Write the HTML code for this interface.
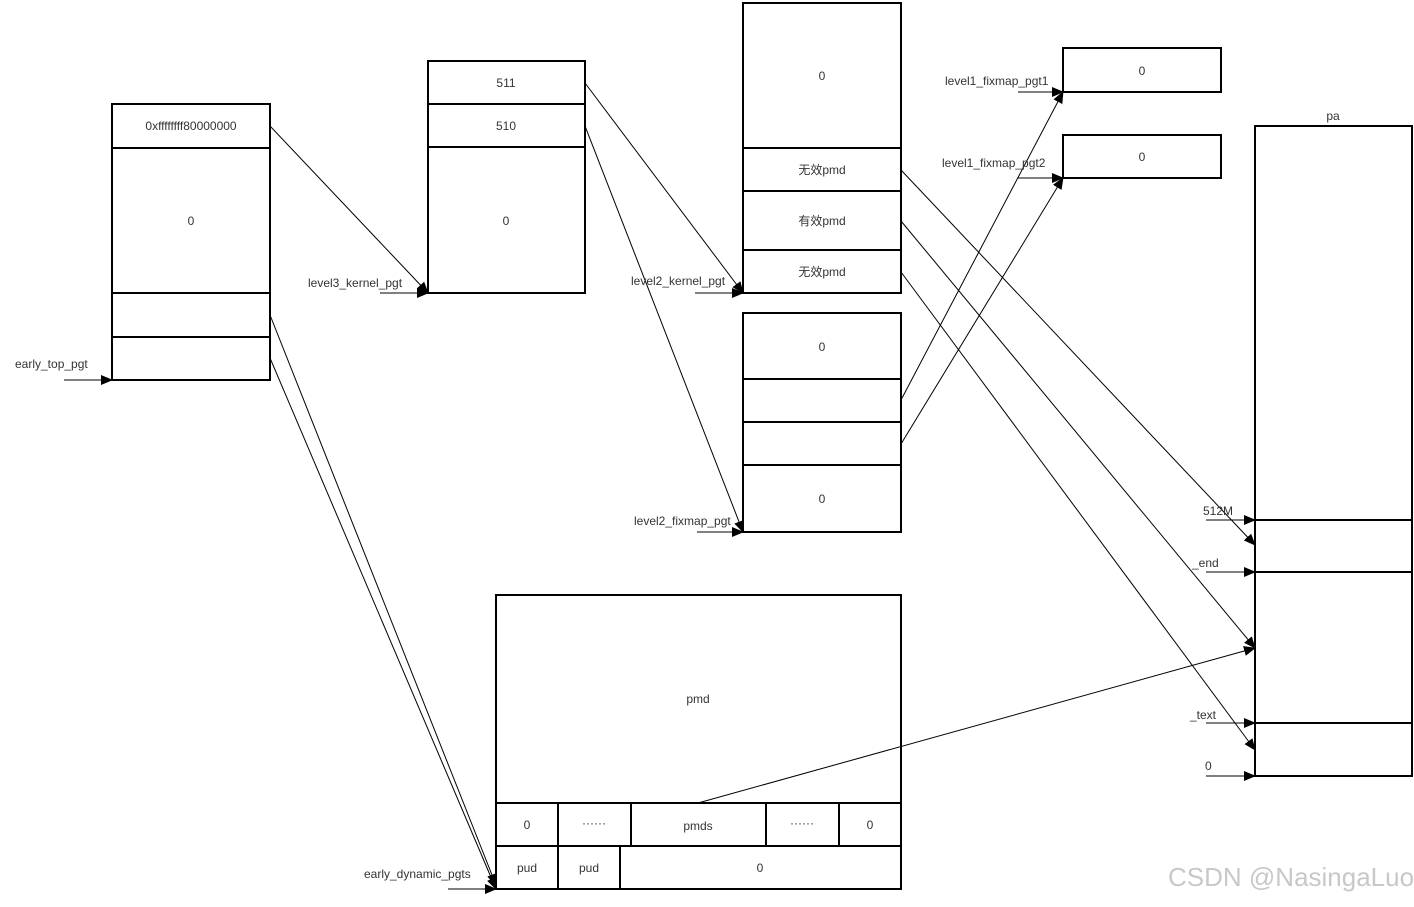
<!DOCTYPE html>
<html><head><meta charset="utf-8"><style>
html,body{margin:0;padding:0;background:#fff;}
svg text{font-family:"Liberation Sans","Noto Sans CJK SC",sans-serif;font-size:12px;fill:#333;}
</style></head><body>
<svg width="1414" height="902" xmlns="http://www.w3.org/2000/svg">
<defs><marker id="a" markerWidth="12" markerHeight="10" refX="11" refY="5" orient="auto" markerUnits="userSpaceOnUse"><path d="M0,0 L12,5 L0,10 Z" fill="#000"/></marker></defs>
<g fill="none" stroke="#000" stroke-width="2">
<rect x="112" y="104" width="158" height="276"/>
<line x1="112" y1="148" x2="270" y2="148"/><line x1="112" y1="293" x2="270" y2="293"/><line x1="112" y1="337" x2="270" y2="337"/>
<rect x="428" y="61" width="157" height="232"/>
<line x1="428" y1="104" x2="585" y2="104"/><line x1="428" y1="147" x2="585" y2="147"/>
<rect x="743" y="3" width="158" height="290"/>
<line x1="743" y1="148" x2="901" y2="148"/><line x1="743" y1="191" x2="901" y2="191"/><line x1="743" y1="250" x2="901" y2="250"/>
<rect x="743" y="313" width="158" height="219"/>
<line x1="743" y1="379" x2="901" y2="379"/><line x1="743" y1="422" x2="901" y2="422"/><line x1="743" y1="465" x2="901" y2="465"/>
<rect x="1063" y="48" width="158" height="44"/>
<rect x="1063" y="135" width="158" height="43"/>
<rect x="1255" y="126" width="157" height="650"/>
<line x1="1255" y1="520" x2="1412" y2="520"/><line x1="1255" y1="572" x2="1412" y2="572"/><line x1="1255" y1="723" x2="1412" y2="723"/>
<rect x="496" y="595" width="405" height="294"/>
<line x1="496" y1="803" x2="901" y2="803"/><line x1="496" y1="846" x2="901" y2="846"/>
<line x1="558" y1="803" x2="558" y2="889"/><line x1="631" y1="803" x2="631" y2="846"/><line x1="766" y1="803" x2="766" y2="846"/><line x1="839" y1="803" x2="839" y2="846"/><line x1="620" y1="846" x2="620" y2="889"/>
</g>
<g stroke="#000" stroke-width="1" fill="none" marker-end="url(#a)">
<line x1="270" y1="126" x2="428" y2="293"/>
<line x1="380" y1="293" x2="428" y2="293"/>
<line x1="64" y1="380" x2="112" y2="380"/>
<line x1="270" y1="315" x2="496" y2="885"/>
<line x1="270" y1="358" x2="496" y2="889"/>
<line x1="448" y1="889" x2="496" y2="889"/>
<line x1="585" y1="83" x2="743" y2="293"/>
<line x1="585" y1="126" x2="743" y2="532"/>
<line x1="695" y1="293" x2="743" y2="293"/>
<line x1="697" y1="532" x2="743" y2="532"/>
<line x1="901" y1="400" x2="1063" y2="92"/>
<line x1="901" y1="444" x2="1063" y2="178"/>
<line x1="1018" y1="92" x2="1063" y2="92"/>
<line x1="1018" y1="178" x2="1063" y2="178"/>
<line x1="901" y1="170" x2="1255" y2="545"/>
<line x1="901" y1="221" x2="1255" y2="648"/>
<line x1="901" y1="272" x2="1255" y2="750"/>
<line x1="698" y1="803" x2="1255" y2="648"/>
<line x1="1206" y1="520" x2="1255" y2="520"/>
<line x1="1206" y1="572" x2="1255" y2="572"/>
<line x1="1206" y1="723" x2="1255" y2="723"/>
<line x1="1206" y1="776" x2="1255" y2="776"/>
</g>
<g text-anchor="middle">
<text x="191" y="130">0xffffffff80000000</text><text x="191" y="225">0</text>
<text x="506" y="87">511</text><text x="506" y="130">510</text><text x="506" y="225">0</text>
<text x="822" y="80">0</text><text x="822" y="174">无效pmd</text><text x="822" y="225">有效pmd</text><text x="822" y="276">无效pmd</text>
<text x="822" y="351">0</text><text x="822" y="503">0</text>
<text x="1142" y="75">0</text><text x="1142" y="161">0</text>
<text x="1333" y="120">pa</text>
<text x="698" y="703">pmd</text>
<text x="527" y="829">0</text><text x="594" y="827">······</text><text x="698" y="830">pmds</text><text x="802" y="827">······</text><text x="870" y="829">0</text>
<text x="527" y="872">pud</text><text x="589" y="872">pud</text><text x="760" y="872">0</text>
</g>
<text x="308" y="287">level3_kernel_pgt</text>
<text x="15" y="368">early_top_pgt</text>
<text x="364" y="878">early_dynamic_pgts</text>
<text x="631" y="285">level2_kernel_pgt</text>
<text x="634" y="525">level2_fixmap_pgt</text>
<text x="945" y="85">level1_fixmap_pgt1</text>
<text x="942" y="167">level1_fixmap_pgt2</text>
<text x="1203" y="515">512M</text>
<text x="1192" y="567">_end</text>
<text x="1190" y="719">_text</text>
<text x="1205" y="770">0</text>
<text x="1168" y="886" style="font-size:26px;fill:#c8c8c8">CSDN @NasingaLuo</text>
</svg>
</body></html>
